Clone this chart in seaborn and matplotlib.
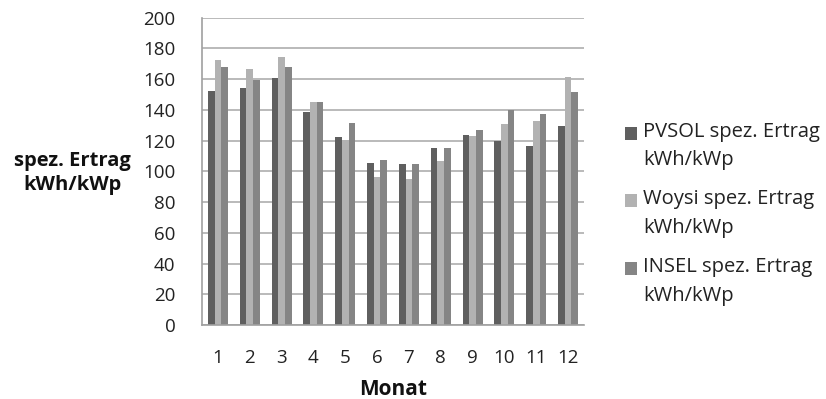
import matplotlib
matplotlib.use("Agg")
import matplotlib.pyplot as plt
from matplotlib.legend_handler import HandlerPatch
from matplotlib.patches import Rectangle
import seaborn as sns
import pandas as pd
import numpy as np

months = [str(m) for m in range(1, 13)]
pvsol = [152.4, 154.4, 160.9, 138.8, 122.5, 105.3, 104.5, 115.3, 123.8, 119.9, 116.8, 129.4]
woysi = [172.2, 166.6, 174.4, 145.1, 120.7, 96.6, 95.1, 106.6, 123.1, 130.9, 133.1, 161.6]
insel = [168.1, 159.8, 168.1, 145.1, 131.6, 107.3, 105.1, 115.3, 126.8, 140.1, 137.2, 151.8]
series_names = ["PVSOL spez. Ertrag\nkWh/kWp", "Woysi spez. Ertrag\nkWh/kWp", "INSEL spez. Ertrag\nkWh/kWp"]
colors = ["#5f5f5f", "#b2b2b2", "#858585"]

df = pd.DataFrame({
    "Monat": months * 3,
    "Wert": pvsol + woysi + insel,
    "Serie": [series_names[0]] * 12 + [series_names[1]] * 12 + [series_names[2]] * 12,
})

sns.set_theme(style="white")
plt.rcParams["font.family"] = ["Open Sans", "DejaVu Sans"]

fig = plt.figure(figsize=(8.26, 3.99), dpi=100)
ax = fig.add_axes([0.2445, 0.1855, 0.4625, 0.77])

sns.barplot(data=df, x="Monat", y="Wert", hue="Serie", palette=colors,
            width=0.63, gap=0, saturation=1, ax=ax, linewidth=0, legend=True)

ax.set_ylim(0, 200)
ax.set_xlim(-0.5, 11.5)
ax.set_yticks(np.arange(0, 201, 20))
ax.yaxis.grid(True, color="#b4b4b4", linewidth=1.3)
ax.set_axisbelow(True)
for side in ["top", "right"]:
    ax.spines[side].set_visible(False)
for side in ["left", "bottom"]:
    ax.spines[side].set_color("#a0a0a0")
    ax.spines[side].set_linewidth(1.2)

ax.tick_params(axis="both", labelsize=13.5, colors="#222222")
ax.tick_params(axis="y", length=6, color="#a0a0a0", width=1.2, direction="out", pad=13)
ax.tick_params(axis="x", which="major", length=0, pad=17)
ax.set_xticks(np.arange(-0.5, 12, 1), minor=True)
ax.tick_params(axis="x", which="minor", length=6, color="#a0a0a0", width=1.2, direction="out")

ax.set_xlabel("Monat", fontsize=15, fontweight="bold", color="#111111", labelpad=9)
ax.set_ylabel("")
fig.text(0.088, 0.566, "spez. Ertrag\nkWh/kWp", fontsize=14.5, fontweight="bold",
         color="#111111", ha="center", va="center", linespacing=1.3)


def top_square(legend, orig_handle, xdescent, ydescent, width, height, fontsize):
    # square key aligned with the first line of a two-line label
    return Rectangle((-xdescent, -ydescent + 9.5), width, height)


handles, labels = ax.get_legend_handles_labels()
leg = ax.legend(handles, labels, loc="upper left", bbox_to_anchor=(0.757, 0.695),
                bbox_transform=fig.transFigure, frameon=False, fontsize=14.5,
                handlelength=0.6, handleheight=0.6, handletextpad=0.3,
                labelspacing=0.95, borderpad=0, borderaxespad=0, labelcolor="#222222",
                handler_map={type(handles[0]): HandlerPatch(patch_func=top_square)})
for t in leg.get_texts():
    t.set_linespacing(1.57)

fig.savefig("out.png", dpi=100)
